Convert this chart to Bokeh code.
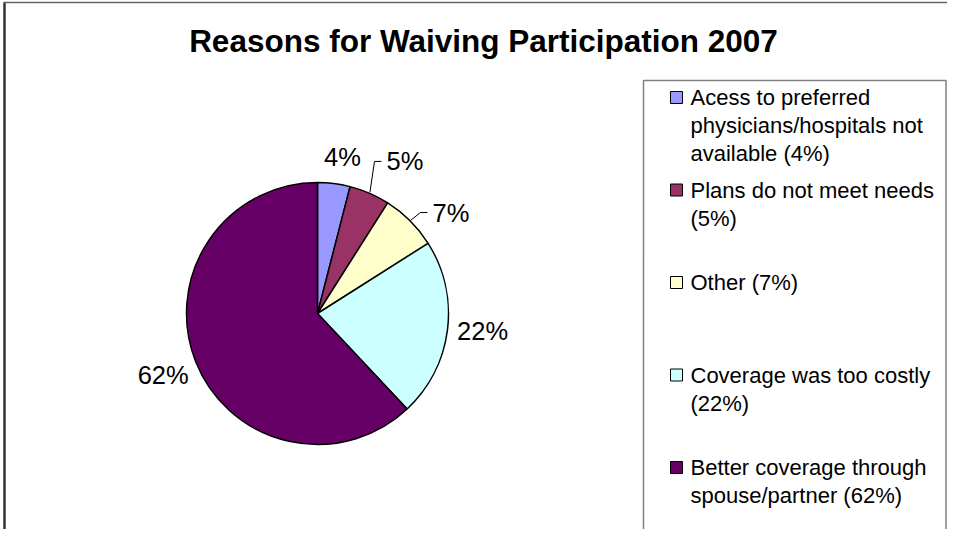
import math
from bokeh.plotting import figure
from bokeh.models import Range1d, ColumnDataSource
from bokeh.embed import file_html
from bokeh.resources import INLINE
from bokeh.core.properties import value

# ---------------- data ----------------
title_text = "Reasons for Waiving Participation 2007"
categories = [
    "Acess to preferred physicians/hospitals not available",
    "Plans do not meet needs",
    "Other",
    "Coverage was too costly",
    "Better coverage through spouse/partner",
]
values = [4, 5, 7, 22, 62]
colors = ["#9999FF", "#993366", "#FFFFCC", "#CCFFFF", "#660066"]
legend_lines = [
    ["Acess to preferred", "physicians/hospitals not", "available (4%)"],
    ["Plans do not meet needs", "(5%)"],
    ["Other (7%)"],
    ["Coverage was too costly", "(22%)"],
    ["Better coverage through", "spouse/partner (62%)"],
]

# ---------------- layout / style ----------------
W, H = 947, 529
FONT = "Liberation Sans"

def fx(rx):
    return rx

def fy(ry):
    return H - ry

p = figure(width=W, height=H, x_range=Range1d(0, W), y_range=Range1d(0, H),
           output_backend="svg", toolbar_location=None,
           x_axis_type=None, y_axis_type=None, min_border=0,
           outline_line_color=None)
p.background_fill_color = "white"
p.border_fill_color = "white"

# outer chart border (only left and top are visible in the window)
p.segment(x0=[fx(4), fx(3)], y0=[-5, fy(2)], x1=[fx(4), W + 5], y1=[fy(2), fy(2)],
          line_color=["#333333", "#666666"], line_width=[2.5, 1.5])

# title
p.text(x=[fx(483)], y=[fy(40)], text=[title_text],
       text_font=value(FONT), text_font_style="bold", text_font_size="31.5px",
       text_align="center", text_baseline="middle", text_color="black")

# pie
cx, cy, r = fx(317), fy(313), 131
total = float(sum(values))
starts, ends, mids = [], [], []
cum = 0.0
for v in values:
    a0 = 90 - cum / total * 360
    cum += v
    a1 = 90 - cum / total * 360
    starts.append(math.radians(a1))
    ends.append(math.radians(a0))
    mids.append((a0 + a1) / 2)

src = ColumnDataSource(dict(start=starts, end=ends, color=colors, cat=categories))
p.wedge(x=cx, y=cy, radius=r, start_angle="start", end_angle="end",
        fill_color="color", line_color="black", line_width=1.5, source=src)

# data labels
label_nudge = [-1.9, -1.0, -3.7, 1.3, 0.0]
label_dist = [158, 167, 153, 166, 166]
label_align = ["center", "left", "left", "center", "center"]
has_leader = [False, True, True, False, False]

lx, ly, lt, la = [], [], [], []
lead_xs, lead_ys = [], []
for i, v in enumerate(values):
    ang = math.radians(mids[i] + label_nudge[i])
    x = cx + label_dist[i] * math.cos(ang)
    y = cy + label_dist[i] * math.sin(ang)
    lx.append(x); ly.append(y); lt.append(f"{v}%"); la.append(label_align[i])
    if has_leader[i]:
        m = math.radians(mids[i])
        lead_xs.append([cx + (r + 1) * math.cos(m), x - 12, x - 5])
        lead_ys.append([cy + (r + 1) * math.sin(m), y, y])

p.multi_line(xs=lead_xs, ys=lead_ys, line_color="black", line_width=1)
p.text(x="x", y="y", text="t", text_align="a",
       source=ColumnDataSource(dict(x=lx, y=ly, t=lt, a=la)),
       text_font=value(FONT), text_font_size="25.5px",
       text_baseline="middle", text_color="black")

# legend box (right edge kept inside the figure)
p.quad(left=[fx(643)], right=[W - 1.5], top=[fy(80)], bottom=[-10],
       fill_color=None, line_color="#808080", line_width=1.5)

entry_y0, entry_step, line_step = 97, 92.5, 28
sq_x, sq_size, text_x = fx(676), 12, fx(690)
sx, sy = [], []
tx, ty, tt = [], [], []
for i, lines in enumerate(legend_lines):
    ey = entry_y0 + i * entry_step
    sx.append(sq_x); sy.append(fy(ey))
    for j, line in enumerate(lines):
        tx.append(text_x); ty.append(fy(ey + j * line_step)); tt.append(line)

p.rect(x=sx, y=sy, width=sq_size, height=sq_size, fill_color=colors,
       line_color="black", line_width=1)
p.text(x=tx, y=ty, text=tt, text_font=value(FONT), text_font_size="22px",
       text_align="left", text_baseline="middle", text_color="black")

open("out.html", "w").write(file_html(p, INLINE))
